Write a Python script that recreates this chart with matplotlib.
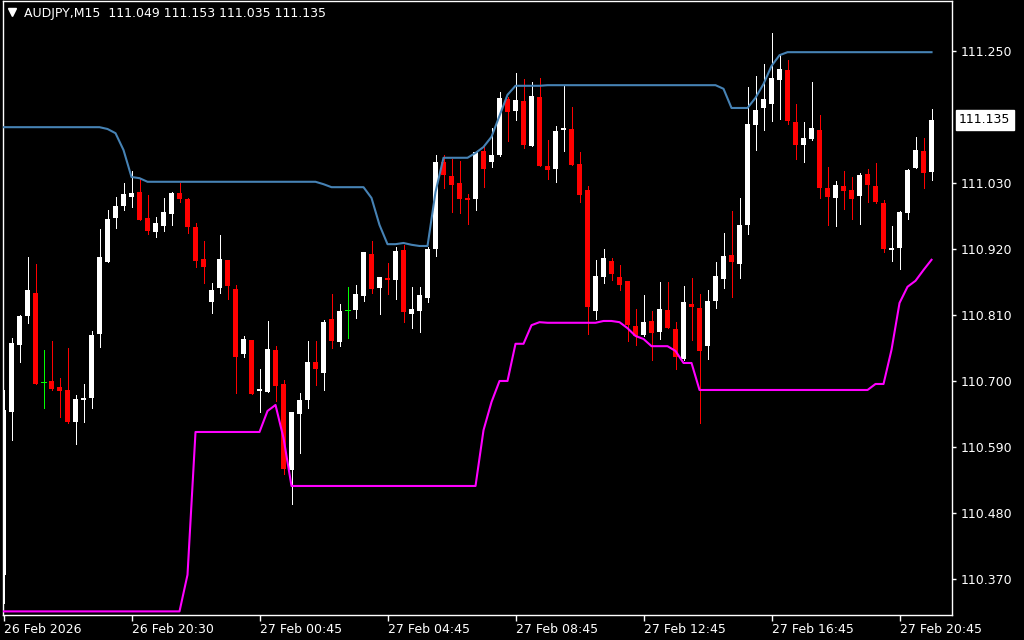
import matplotlib.pyplot as plt
from matplotlib.transforms import blended_transform_factory

# AUDJPY M15 candles, oldest first
symbol = 'AUDJPY,M15'

opens = [110.377, 110.648, 110.760, 110.808, 110.847, 110.698, 110.700, 110.690, 110.685, 110.632,
         110.668, 110.672, 110.778, 110.898, 110.972, 110.992, 111.007, 111.015, 110.972, 110.948,
         110.958, 110.978, 111.013, 111.003, 110.957, 110.903, 110.832, 110.855, 110.902, 110.853,
         110.745, 110.768, 110.683, 110.682, 110.752, 110.695, 110.552, 110.645, 110.668, 110.732,
         110.713, 110.803, 110.765, 110.818, 110.818, 110.842, 110.912, 110.855, 110.872, 110.868,
         110.918, 110.812, 110.817, 110.838, 110.920, 111.065, 111.042, 111.030, 111.005, 111.003,
         111.083, 111.065, 111.077, 111.170, 111.150, 111.167, 111.092, 111.173, 111.058, 111.053,
         111.118, 111.120, 111.062, 111.018, 110.817, 110.873, 110.900, 110.873, 110.867, 110.792,
         110.777, 110.800, 110.782, 110.818, 110.787, 110.737, 110.828, 110.822, 110.758, 110.833,
         110.870, 110.910, 110.895, 110.960, 111.127, 111.155, 111.162, 111.202, 111.218, 111.132,
         111.093, 111.103, 111.118, 111.022, 111.005, 111.025, 111.018, 111.008, 111.045, 111.025,
         110.997, 110.918, 110.922, 110.980, 111.055, 111.083, 111.049]

highs = [110.685, 110.772, 110.810, 110.907, 110.895, 110.752, 110.767, 110.705, 110.755, 110.677,
         110.695, 110.783, 110.953, 110.985, 111.007, 111.030, 111.050, 111.037, 111.010, 110.973,
         111.005, 111.015, 111.030, 111.005, 110.963, 110.933, 110.863, 110.943, 110.902, 110.860,
         110.775, 110.768, 110.720, 110.800, 110.758, 110.702, 110.648, 110.680, 110.767, 110.767,
         110.802, 110.845, 110.828, 110.857, 110.860, 110.915, 110.933, 110.873, 110.897, 110.923,
         110.927, 110.857, 110.857, 110.923, 111.077, 111.077, 111.070, 111.067, 111.012, 111.082,
         111.092, 111.122, 111.182, 111.173, 111.213, 111.203, 111.198, 111.205, 111.102, 111.125,
         111.192, 111.157, 111.082, 111.025, 110.902, 110.920, 110.905, 110.893, 110.867, 110.820,
         110.843, 110.817, 110.865, 110.865, 110.798, 110.858, 110.872, 110.845, 110.852, 110.898,
         110.947, 110.983, 111.005, 111.190, 111.208, 111.228, 111.280, 111.245, 111.235, 111.162,
         111.132, 111.198, 111.143, 111.057, 111.033, 111.050, 111.040, 111.047, 111.053, 111.063,
         111.002, 110.958, 110.983, 111.053, 111.107, 111.105, 111.153]

lows = [110.330, 110.602, 110.732, 110.797, 110.695, 110.655, 110.685, 110.640, 110.630, 110.595,
        110.632, 110.655, 110.757, 110.898, 110.955, 110.985, 110.990, 110.968, 110.945, 110.940,
        110.950, 110.960, 110.998, 110.947, 110.890, 110.863, 110.813, 110.847, 110.837, 110.680,
        110.740, 110.678, 110.648, 110.682, 110.667, 110.545, 110.495, 110.580, 110.655, 110.693,
        110.685, 110.755, 110.758, 110.772, 110.805, 110.833, 110.847, 110.812, 110.845, 110.837,
        110.798, 110.788, 110.782, 110.832, 110.908, 111.022, 110.982, 110.980, 110.962, 110.985,
        111.023, 111.057, 111.075, 111.100, 111.135, 111.088, 111.092, 111.058, 111.037, 111.032,
        111.083, 111.060, 110.998, 110.778, 110.803, 110.863, 110.868, 110.852, 110.767, 110.760,
        110.775, 110.735, 110.770, 110.788, 110.720, 110.735, 110.768, 110.630, 110.737, 110.822,
        110.855, 110.840, 110.872, 110.945, 111.085, 111.118, 111.133, 111.137, 111.128, 111.070,
        111.065, 111.102, 111.005, 110.960, 110.958, 110.987, 110.970, 110.962, 110.998, 110.997,
        110.915, 110.900, 110.887, 110.970, 111.055, 111.022, 111.035]

closes = [110.652, 110.763, 110.808, 110.852, 110.695, 110.698, 110.687, 110.683, 110.632, 110.670,
          110.672, 110.777, 110.907, 110.970, 110.992, 111.012, 111.013, 110.968, 110.950, 110.963,
          110.982, 111.013, 111.003, 110.957, 110.900, 110.890, 110.852, 110.903, 110.858, 110.740,
          110.770, 110.678, 110.687, 110.753, 110.692, 110.553, 110.648, 110.668, 110.732, 110.720,
          110.798, 110.767, 110.817, 110.818, 110.845, 110.915, 110.853, 110.873, 110.868, 110.917,
          110.815, 110.820, 110.843, 110.920, 111.065, 111.043, 111.027, 111.003, 111.002, 111.082,
          111.053, 111.077, 111.172, 111.148, 111.168, 111.093, 111.175, 111.058, 111.052, 111.117,
          111.122, 111.060, 111.010, 110.823, 110.875, 110.905, 110.878, 110.860, 110.793, 110.775,
          110.798, 110.780, 110.820, 110.788, 110.740, 110.832, 110.823, 110.750, 110.833, 110.875,
          110.908, 110.898, 110.960, 111.128, 111.152, 111.170, 111.205, 111.220, 111.133, 111.093,
          111.105, 111.122, 111.022, 111.007, 111.027, 111.017, 111.003, 111.043, 111.027, 110.998,
          110.920, 110.922, 110.982, 111.052, 111.085, 111.047, 111.135]

# channel indicator (upper = steel blue, lower = magenta)
upper_band = [111.123, 111.123, 111.123, 111.123, 111.123, 111.123, 111.123, 111.123, 111.123, 111.123,
              111.123, 111.123, 111.123, 111.120, 111.113, 111.085, 111.040, 111.038, 111.032, 111.032,
              111.032, 111.032, 111.032, 111.032, 111.032, 111.032, 111.032, 111.032, 111.032, 111.032,
              111.032, 111.032, 111.032, 111.032, 111.032, 111.032, 111.032, 111.032, 111.032, 111.032,
              111.028, 111.023, 111.023, 111.023, 111.023, 111.023, 111.005, 110.960, 110.928, 110.928,
              110.930, 110.927, 110.925, 110.925, 111.015, 111.072, 111.072, 111.072, 111.072, 111.080,
              111.090, 111.107, 111.142, 111.177, 111.192, 111.192, 111.192, 111.192, 111.193, 111.193,
              111.193, 111.193, 111.193, 111.193, 111.193, 111.193, 111.193, 111.193, 111.193, 111.193,
              111.193, 111.193, 111.193, 111.193, 111.193, 111.193, 111.193, 111.193, 111.193, 111.193,
              111.187, 111.155, 111.155, 111.155, 111.172, 111.195, 111.225, 111.243, 111.248, 111.248,
              111.248, 111.248, 111.248, 111.248, 111.248, 111.248, 111.248, 111.248, 111.248, 111.248,
              111.248, 111.248, 111.248, 111.248, 111.248, 111.248, 111.248]

lower_band = [110.316, 110.316, 110.316, 110.316, 110.316, 110.316, 110.316, 110.316, 110.316, 110.316,
              110.316, 110.316, 110.316, 110.316, 110.316, 110.316, 110.316, 110.316, 110.316, 110.316,
              110.316, 110.316, 110.316, 110.377, 110.615, 110.615, 110.615, 110.615, 110.615, 110.615,
              110.615, 110.615, 110.615, 110.650, 110.660, 110.605, 110.525, 110.525, 110.525, 110.525,
              110.525, 110.525, 110.525, 110.525, 110.525, 110.525, 110.525, 110.525, 110.525, 110.525,
              110.525, 110.525, 110.525, 110.525, 110.525, 110.525, 110.525, 110.525, 110.525, 110.525,
              110.618, 110.665, 110.700, 110.700, 110.762, 110.762, 110.793, 110.798, 110.797, 110.797,
              110.797, 110.797, 110.797, 110.797, 110.797, 110.800, 110.800, 110.798, 110.788, 110.775,
              110.770, 110.758, 110.758, 110.758, 110.750, 110.730, 110.730, 110.685, 110.685, 110.685,
              110.685, 110.685, 110.685, 110.685, 110.685, 110.685, 110.685, 110.685, 110.685, 110.685,
              110.685, 110.685, 110.685, 110.685, 110.685, 110.685, 110.685, 110.685, 110.685, 110.695,
              110.695, 110.752, 110.830, 110.857, 110.867, 110.885, 110.902]

tick_bars = [0, 16, 32, 48, 64, 80, 96, 112]
tick_labels = ['26 Feb 2026', '26 Feb 20:30', '27 Feb 00:45', '27 Feb 04:45',
               '27 Feb 08:45', '27 Feb 12:45', '27 Feb 16:45', '27 Feb 20:45']
price_ticks = [110.370, 110.480, 110.590, 110.700, 110.810, 110.920, 111.030, 111.250]

W, H = 1024, 640
fig = plt.figure(figsize=(W / 100, H / 100), dpi=100, facecolor='black')
# plot frame in pixels: x 2.5..952, y 1..614.5
ax = fig.add_axes([2.5 / W, 1 - 614.5 / H, (952 - 2.5) / W, (614.5 - 1) / H])
ax.set_facecolor('black')

bars = list(range(len(opens)))
colors = []
for o, c in zip(opens, closes):
    if c > o:
        colors.append('white')
    elif c < o:
        colors.append('#ff0000')
    else:
        colors.append('#00ff00')

ax.vlines(bars, lows, highs, colors=colors, linewidth=0.72, antialiased=False, zorder=2)
body_x = [i for i in bars if opens[i] != closes[i]]
ax.bar(body_x,
       [abs(closes[i] - opens[i]) for i in body_x],
       bottom=[min(opens[i], closes[i]) for i in body_x],
       width=0.625, color=[colors[i] for i in body_x], linewidth=0,
       antialiased=False, zorder=2)
doji_x = [i for i in bars if opens[i] == closes[i]]
ax.hlines([opens[i] for i in doji_x], [i - 0.3125 for i in doji_x], [i + 0.3125 for i in doji_x],
          colors='#00ff00', linewidth=0.72, antialiased=False, zorder=2)

ax.plot(bars, upper_band, color='#4682b4', lw=1.5, zorder=3)
ax.plot(bars, lower_band, color='#ff00ff', lw=1.5, zorder=3)

ax.set_xlim(-0.125, 118.56)
ax.set_ylim(110.3108, 111.3333)

for s in ax.spines.values():
    s.set_color('white')
    s.set_linewidth(1)

ax.yaxis.tick_right()
ax.set_yticks(price_ticks)
ax.set_yticklabels([f'{v:.3f}' for v in price_ticks])
ax.tick_params(axis='y', colors='white', length=3, width=1, pad=3, labelsize=9)
ax.set_xticks(tick_bars)
ax.set_xticklabels(tick_labels, ha='left')
ax.tick_params(axis='x', colors='white', length=4, width=1, pad=2, labelsize=9)

# current price tag
tr = blended_transform_factory(ax.transAxes, ax.transData)
ax.text(1 + 7 / 949.5, closes[-1], f'{closes[-1]:.3f}', transform=tr, ha='left', va='center',
        color='black', fontsize=9, clip_on=False,
        bbox=dict(boxstyle='square,pad=0.25', fc='white', ec='white'))

# header
ax.plot([12 / W], [1 - 12 / H], marker='v', ms=6, color='white', transform=fig.transFigure, clip_on=False)
fig.text(24 / W, 1 - 14 / H,
         f'{symbol}  {opens[-1]:.3f} {highs[-1]:.3f} {lows[-1]:.3f} {closes[-1]:.3f}',
         color='white', fontsize=9, ha='left', va='center')

fig.savefig('out.png', dpi=100, facecolor='black')
